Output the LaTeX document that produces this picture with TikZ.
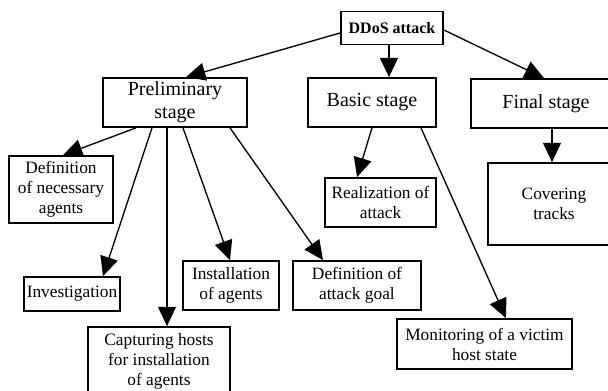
\documentclass[tikz,border=0pt]{standalone}
\usepackage{fontspec}
\setmainfont{Liberation Serif}
\usetikzlibrary{arrows.meta}
\begin{document}
\begin{tikzpicture}[x=0.75pt, y=-0.75pt, >={Triangle[length=14.5pt,width=13.5pt]},
    box/.style={draw, line width=1.3pt, inner sep=0pt, align=center},
    big/.style={box, font=\fontsize{15}{17.5}\selectfont},
    small/.style={box, font=\fontsize{13}{15}\selectfont},
    link/.style={->, line width=1pt}]
    \clip (0,0) rectangle (608,391);
    \fill [white] (0,0) rectangle (608,391);
    % top
    \node [box, font=\fontsize{12}{14}\selectfont\bfseries, minimum width=76.5pt, minimum height=24.75pt] (ddos) at (392,28) {DDoS attack};
    % stages
    \node [big, minimum width=108pt, minimum height=36.75pt] (prelim) at (175,102.5) {Preliminary\\stage};
    \node [big, minimum width=96pt, minimum height=36.75pt] (basic) at (372,102.5) {Basic stage};
    \node [big, minimum width=112.5pt, minimum height=36.75pt] (final) at (546,103.5) {Final stage};
    % leaves
    \node [small, minimum width=78pt, minimum height=50.25pt] (defagents) at (61,189.5) {Definition\\of necessary\\agents};
    \node [small, minimum width=72pt, minimum height=25.5pt] (invest) at (72,294) {Investigation};
    \node [small, minimum width=106.5pt, minimum height=51.75pt] (capture) at (159,361.5) {Capturing hosts\\for installation\\of agents};
    \node [small, minimum width=72pt, minimum height=36.75pt] (install) at (231,285.5) {Installation\\of agents};
    \node [small, minimum width=96pt, minimum height=36.75pt] (defgoal) at (357,285.5) {Definition of\\attack goal};
    \node [small, minimum width=83.25pt, minimum height=36.75pt] (realiz) at (380.5,202.5) {Realization of\\attack};
    \node [small, minimum width=131.25pt, minimum height=37.5pt] (monitor) at (484.5,344) {Monitoring of a victim\\host state};
    \node [small, minimum width=99pt, minimum height=61.5pt] (covering) at (554,204) {Covering\\tracks};
    % arrows
    \draw [link] ([yshift=-3.75pt]ddos.west) -- ([xshift=8.25pt]prelim.north);
    \draw [link] ([xshift=-2.25pt]ddos.south) -- ([xshift=12.75pt]basic.north);
    \draw [link] ([yshift=-1.5pt]ddos.east) -- ([xshift=-1.5pt]final.north);
    \draw [link] ([xshift=-29.25pt]prelim.south) -- ([xshift=1.5pt]defagents.north);
    \draw [link] ([xshift=-17.25pt]prelim.south) -- ([xshift=23.25pt]invest.north);
    \draw [link] ([xshift=-6pt]prelim.south) -- ([xshift=6pt]capture.north);
    \draw [link] ([xshift=6pt]prelim.south) -- ([xshift=-0.75pt]install.north);
    \draw [link] ([xshift=41.25pt]prelim.south) -- ([xshift=-25.5pt]defgoal.north);
    \draw [link] (basic.south) -- ([xshift=-17.6pt]realiz.north);
    \draw [link] ([xshift=36.75pt]basic.south) -- ([xshift=16.1pt]monitor.north);
    \draw [link] ([xshift=4.5pt]final.south) -- ([xshift=-1.5pt]covering.north);
\end{tikzpicture}
\end{document}
